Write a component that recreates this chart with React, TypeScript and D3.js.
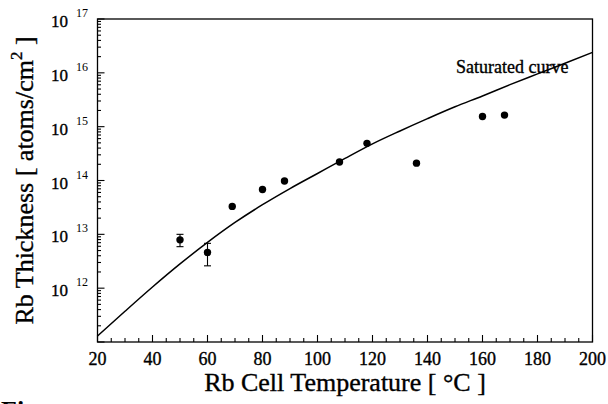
import React from "react";
import * as d3 from "d3";

const TEMPS = [50, 60, 69, 80, 88, 108, 118, 136, 160, 168];
const THICKNESS = [7.9e12, 4.6e12, 3.3e13, 6.8e13, 9.8e13, 2.2e14, 4.9e14, 2.1e14, 1.54e15, 1.64e15];
const ERR_TEMPS = [50, 60];
const ERR_LOW = [5.9e12, 2.6e12];
const ERR_HIGH = [1.0e13, 6.8e12];
const CURVE_T = [20, 30, 40, 50, 60, 70, 80, 90, 100, 110, 120, 130, 140, 150, 160, 170, 180, 190, 200];
const CURVE_N = [1.29e11, 3.72e11, 1.05e12, 2.82e12, 7.08e12, 1.66e13, 3.55e13, 7.08e13, 1.35e14, 2.57e14, 4.79e14, 8.32e14, 1.41e15, 2.34e15, 3.72e15, 6.03e15, 9.55e15, 1.51e16, 2.4e16];
const X_TICKS = [20, 40, 60, 80, 100, 120, 140, 160, 180, 200];
const Y_EXPONENTS = [12, 13, 14, 15, 16, 17];

const W = 608, H = 404;
const L = 97.5, R = 592.5, T = 19, B = 342;
const FONT = "'Liberation Serif', 'Times New Roman', serif";

export default function App() {
  const x = d3.scaleLinear().domain([20, 200]).range([L, R]);
  const y = d3.scaleLog().domain([1e11, 1e17]).range([B, T]);
  const line = d3
    .line<number>()
    .x((_, i) => x(CURVE_T[i]))
    .y((d) => y(d))
    .curve(d3.curveMonotoneX);

  const xMinor = d3.range(20, 201, 5);
  const yMinor: number[] = [];
  for (let e = 11; e < 17; e++) for (let k = 1; k <= 9; k++) yMinor.push(k * Math.pow(10, e));
  yMinor.push(1e17);

  const ink = { stroke: "#000", strokeWidth: 0.35 };

  return (
    <svg width={W} height={H} style={{ position: "absolute", left: 0, top: 0, background: "#fff" }} fontFamily={FONT}>
      <rect width={W} height={H} fill="#fff" />
      <rect x={L} y={T} width={R - L} height={B - T} fill="none" stroke="#000" strokeWidth={1.3} />
      {xMinor.map((t) => {
        const major = t % 20 === 0;
        return <line key={"xt" + t} x1={x(t)} x2={x(t)} y1={B} y2={B - (major ? 7 : 4)} stroke="#000" strokeWidth={1.1} />;
      })}
      {yMinor.map((v, i) => {
        const major = Math.abs(Math.log10(v) - Math.round(Math.log10(v))) < 1e-9;
        return <line key={"yt" + i} x1={L} x2={L + (major ? 7 : 3.5)} y1={y(v)} y2={y(v)} stroke="#000" strokeWidth={1.1} />;
      })}
      {X_TICKS.map((t) => (
        <text key={"xl" + t} x={x(t)} y={365} fontSize={18} textAnchor="middle" fill="#000" {...ink}>
          {t}
        </text>
      ))}
      {Y_EXPONENTS.map((e) => {
        const yy = y(Math.pow(10, e));
        return (
          <g key={"yl" + e}>
            <text x={L - 29.5} y={yy + 8} fontSize={17} textAnchor="end" fill="#000" {...ink}>10</text>
            <text x={L - 21.5} y={yy - 2} fontSize={12} textAnchor="start" fill="#000">{e}</text>
          </g>
        );
      })}
      <path d={line(CURVE_N) || ""} fill="none" stroke="#000" strokeWidth={1.5} />
      <text x={456} y={72.5} fontSize={18} fill="#000" {...ink}>Saturated curve</text>
      {ERR_TEMPS.map((t, i) => (
        <g key={"eb" + t} stroke="#000" strokeWidth={1.1}>
          <line x1={x(t)} x2={x(t)} y1={y(ERR_LOW[i])} y2={y(ERR_HIGH[i])} />
          <line x1={x(t) - 3.5} x2={x(t) + 3.5} y1={y(ERR_LOW[i])} y2={y(ERR_LOW[i])} />
          <line x1={x(t) - 3.5} x2={x(t) + 3.5} y1={y(ERR_HIGH[i])} y2={y(ERR_HIGH[i])} />
        </g>
      ))}
      {TEMPS.map((t, i) => (
        <circle key={"p" + i} cx={x(t)} cy={y(THICKNESS[i])} r={3.7} fill="#000" />
      ))}
      <text x={(L + R) / 2} y={391} fontSize={26} textAnchor="middle" fill="#000" {...ink}>
        Rb Cell Temperature [ °C ]
      </text>
      <text transform={`translate(33, ${(T + B) / 2}) rotate(-90)`} fontSize={26} textAnchor="middle" fill="#000" {...ink}>
        Rb Thickness [ atoms/cm<tspan fontSize={17} dy={-11}>2</tspan><tspan dy={11}> ]</tspan>
      </text>
      <text x={1} y={419} fontSize={26} fontWeight="bold" fill="#000">Fig.</text>
    </svg>
  );
}
